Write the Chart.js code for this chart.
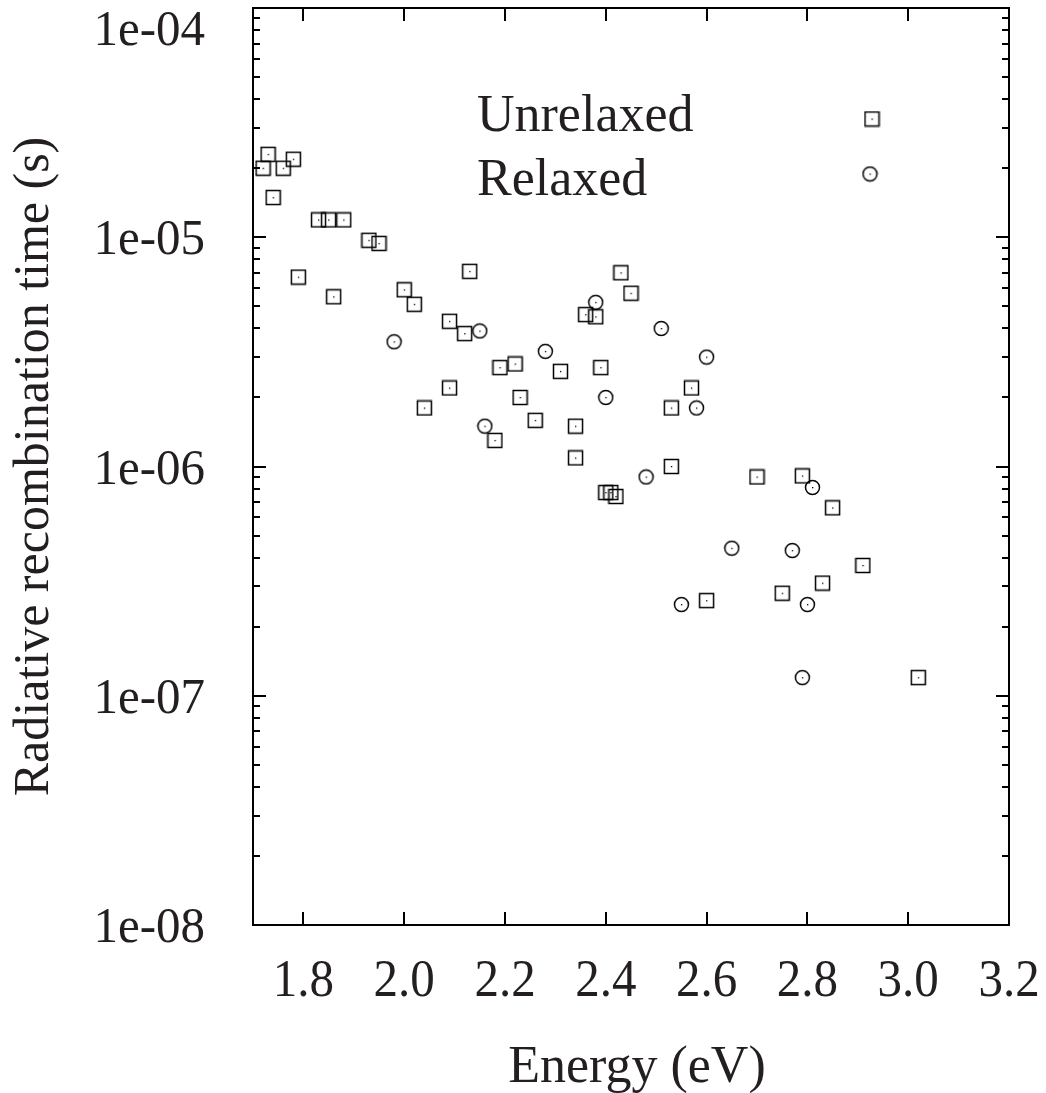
<!DOCTYPE html>
<html>
<head>
<meta charset="utf-8">
<title>Radiative recombination time vs energy</title>
<script src="https://cdn.jsdelivr.net/npm/chart.js@4.4.0/dist/chart.umd.min.js"></script>
<style>
    html, body { margin: 0; padding: 0; background: #ffffff; }
</style>
</head>
<body>
<canvas id="chart" width="1046" height="1093"></canvas>
<script>
// Unrelaxed (squares)
var UnrelaxedEnergy = [1.72, 1.73, 1.74, 1.76, 1.78, 1.79, 1.83, 1.85, 1.88, 1.86, 1.93, 1.95,
    2.00, 2.02, 2.04, 2.09, 2.09, 2.12, 2.13, 2.18, 2.19, 2.22, 2.23, 2.26, 2.31, 2.34, 2.34,
    2.36, 2.38, 2.39, 2.43, 2.45, 2.40, 2.41, 2.42, 2.53, 2.53, 2.57, 2.60, 2.70, 2.75, 2.79,
    2.83, 2.85, 2.91, 3.02];
var UnrelaxedTime = [2.0e-5, 2.3e-5, 1.49e-5, 2.0e-5, 2.19e-5, 6.7e-6, 1.19e-5, 1.19e-5, 1.19e-5, 5.5e-6, 9.7e-6, 9.4e-6,
    5.9e-6, 5.1e-6, 1.8e-6, 4.3e-6, 2.2e-6, 3.8e-6, 7.1e-6, 1.3e-6, 2.7e-6, 2.8e-6, 2.0e-6, 1.59e-6, 2.6e-6, 1.5e-6, 1.09e-6,
    4.6e-6, 4.5e-6, 2.7e-6, 7.0e-6, 5.7e-6, 7.7e-7, 7.7e-7, 7.4e-7, 1.0e-6, 1.8e-6, 2.2e-6, 2.6e-7, 9.0e-7, 2.8e-7, 9.1e-7,
    3.1e-7, 6.6e-7, 3.7e-7, 1.2e-7];

// Relaxed (circles)
var RelaxedEnergy = [1.98, 2.15, 2.16, 2.28, 2.38, 2.40, 2.48, 2.51, 2.58, 2.60, 2.55, 2.65, 2.77, 2.80, 2.81, 2.79];
var RelaxedTime = [3.5e-6, 3.9e-6, 1.5e-6, 3.18e-6, 5.2e-6, 2.0e-6, 9.0e-7, 4.0e-6, 1.8e-6, 3.0e-6, 2.5e-7, 4.4e-7, 4.3e-7, 2.5e-7, 8.1e-7, 1.2e-7];

var SeriesNames = ['Unrelaxed', 'Relaxed'];
var XTicks = [1.8, 2.0, 2.2, 2.4, 2.6, 2.8, 3.0, 3.2];
var XTickLabels = ['1.8', '2.0', '2.2', '2.4', '2.6', '2.8', '3.0', '3.2'];
var YTicks = [1e-8, 1e-7, 1e-6, 1e-5, 1e-4];
var YTickLabels = ['1e-08', '1e-07', '1e-06', '1e-05', '1e-04'];
var XTitle = 'Energy (eV)';
var YTitle = 'Radiative recombination time (s)';

var SERIF = "'Liberation Serif', 'Times New Roman', serif";
var INK = '#231f20';

function makeMarker(shape) {
    var c = document.createElement('canvas');
    c.width = 17;
    c.height = 17;
    var g = c.getContext('2d');
    g.strokeStyle = '#000';
    g.lineWidth = 1.5;
    if (shape == 'square') {
        g.strokeRect(1.5, 1.5, 14, 14);
    } else {
        g.beginPath();
        g.arc(8.5, 8.5, 7, 0, Math.PI * 2);
        g.stroke();
    }
    g.fillStyle = '#000';
    g.fillRect(8, 8, 1.3, 1.3);
    return c;
}

var SquareMark = makeMarker('square');
var CircleMark = makeMarker('circle');

function toPoints(xs, ys) {
    var pts = [];
    for (var i = 0; i < xs.length; i++) {
        pts.push({ x: xs[i], y: ys[i] });
    }
    return pts;
}

// minor ticks 2..9 inside each decade
var YMinor = [];
for (var d = 0; d < YTicks.length - 1; d++) {
    for (var m = 2; m <= 9; m++) {
        YMinor.push(m * YTicks[d]);
    }
}

// text stretched a little in height, like the original scan
function tallText(ctx, txt, x, y, k) {
    ctx.save();
    ctx.translate(x, y);
    ctx.scale(1, k);
    ctx.fillText(txt, 0, 0);
    ctx.restore();
}

var framePlugin = {
    id: 'frame',
    afterDatasetsDraw: function (chart) {
        var ctx = chart.ctx;
        var a = chart.chartArea;
        var xs = chart.scales.x;
        var ys = chart.scales.y;
        ctx.save();

        // axis box
        ctx.strokeStyle = '#000';
        ctx.lineWidth = 2;
        ctx.strokeRect(a.left, a.top, a.right - a.left, a.bottom - a.top);

        // inward ticks
        ctx.beginPath();
        XTicks.forEach(function (v) {
            var px = Math.round(xs.getPixelForValue(v));
            if (px >= a.right - 2) return;
            ctx.moveTo(px, a.bottom); ctx.lineTo(px, a.bottom - 13);
            ctx.moveTo(px, a.top); ctx.lineTo(px, a.top + 13);
        });
        YTicks.forEach(function (v) {
            var py = Math.round(ys.getPixelForValue(v));
            ctx.moveTo(a.left, py); ctx.lineTo(a.left + 13, py);
            ctx.moveTo(a.right, py); ctx.lineTo(a.right - 13, py);
        });
        YMinor.forEach(function (v) {
            var py = Math.round(ys.getPixelForValue(v));
            ctx.moveTo(a.left, py); ctx.lineTo(a.left + 7, py);
            ctx.moveTo(a.right, py); ctx.lineTo(a.right - 7, py);
        });
        ctx.stroke();

        // tick labels
        ctx.fillStyle = INK;
        ctx.font = '49px ' + SERIF;
        ctx.textBaseline = 'alphabetic';
        ctx.textAlign = 'center';
        XTicks.forEach(function (v, i) {
            tallText(ctx, XTickLabels[i], xs.getPixelForValue(v), 996, 1.08);
        });
        ctx.textAlign = 'right';
        YTicks.forEach(function (v, i) {
            var py = ys.getPixelForValue(v);
            tallText(ctx, YTickLabels[i], 205, Math.max(py + 17, 45), 1.05);
        });

        // axis titles
        ctx.font = '52px ' + SERIF;
        ctx.textAlign = 'center';
        ctx.fillText(XTitle, (a.left + a.right) / 2 + 6, 1082);
        ctx.save();
        ctx.translate(48, (a.top + a.bottom) / 2);
        ctx.rotate(-Math.PI / 2);
        ctx.font = '50px ' + SERIF;
        ctx.fillText(YTitle, 0, 0);
        ctx.restore();

        // legend
        ctx.font = '52px ' + SERIF;
        ctx.textAlign = 'left';
        ctx.fillText(SeriesNames[0], 477, 131);
        ctx.fillText(SeriesNames[1], 477, 195);
        ctx.drawImage(SquareMark, 872 - 8.5, 119 - 8.5);
        ctx.drawImage(CircleMark, 870 - 8.5, 174 - 8.5);

        ctx.restore();
    }
};

var chart = new Chart(document.getElementById('chart'), {
    type: 'scatter',
    data: {
        datasets: [{
            label: SeriesNames[0],
            data: toPoints(UnrelaxedEnergy, UnrelaxedTime),
            pointStyle: SquareMark,
            pointRadius: 7,
            pointHoverRadius: 7
        }, {
            label: SeriesNames[1],
            data: toPoints(RelaxedEnergy, RelaxedTime),
            pointStyle: CircleMark,
            pointRadius: 7,
            pointHoverRadius: 7
        }]
    },
    options: {
        responsive: false,
        animation: false,
        layout: {
            padding: { left: 253, top: 6, right: 37, bottom: 168 }
        },
        plugins: {
            legend: { display: false },
            tooltip: { enabled: false }
        },
        scales: {
            x: {
                type: 'linear',
                min: 1.7,
                max: 3.2,
                display: false
            },
            y: {
                type: 'logarithmic',
                min: 1e-8,
                max: 1e-4,
                display: false
            }
        }
    },
    plugins: [framePlugin]
});
</script>
</body>
</html>
